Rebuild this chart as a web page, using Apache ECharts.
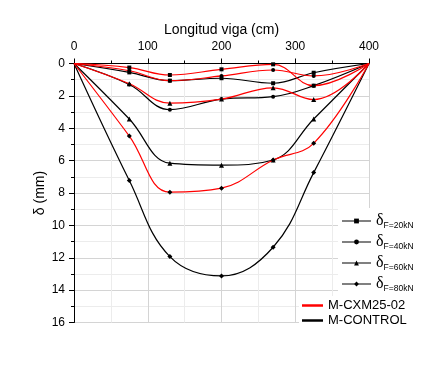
<!DOCTYPE html>
<html><head><meta charset="utf-8">
<script src="https://cdn.jsdelivr.net/npm/echarts@6/dist/echarts.min.js"></script>
<style>html,body{margin:0;padding:0;background:#fff}#c{width:438px;height:365px}</style>
</head><body><div id="c"></div>
<script>
// positions along beam (cm)
const positions = [0, 75, 130, 200, 270, 325, 400];
// deflections (mm) - M-CXM25-02 (red)
const cxm20 = [0, 0.25, 0.71, 0.36, 0.05, 1.37, 0];
const cxm40 = [0, 0.45, 1.06, 0.77, 0.40, 0.77, 0];
const cxm60 = [0, 1.25, 2.45, 2.20, 1.50, 2.23, 0];
const cxm80 = [0, 4.48, 7.95, 7.70, 5.96, 4.93, 0];
// deflections (mm) - M-CONTROL (black)
const ctl20 = [0, 0.55, 1.06, 0.91, 1.22, 0.57, 0];
const ctl40 = [0, 1.30, 2.85, 2.20, 2.05, 1.37, 0];
const ctl60 = [0, 3.43, 6.16, 6.28, 5.96, 3.43, 0];
const ctl80 = [0, 7.23, 11.93, 13.12, 11.35, 6.74, 0];
const loadNames = ['F=20kN', 'F=40kN', 'F=60kN', 'F=80kN'];
const beamNames = ['M-CXM25-02', 'M-CONTROL'];
const xTicks = [0, 100, 200, 300, 400];
const yTicks = [0, 2, 4, 6, 8, 10, 12, 14, 16];

const symbols = ['rect', 'circle', 'triangle', 'diamond'];
const symSizes = [4, 4, 5, 5];
function mk(arr, li, color) {
  return {
    type: 'line', smooth: 0.4, symbol: symbols[li], symbolSize: symSizes[li],
    lineStyle: { color: color, width: 1.2 }, itemStyle: { color: '#000' },
    silent: true, z: color === '#ff0000' ? 3 : 2,
    data: arr.map((v, i) => (i === 0 || i === arr.length - 1) ? { value: [positions[i], v], symbolSize: 0 } : [positions[i], v])
  };
}
const series = [];
[ctl20, ctl40, ctl60, ctl80].forEach((a, i) => series.push(mk(a, i, '#000000')));
[cxm20, cxm40, cxm60, cxm80].forEach((a, i) => series.push(mk(a, i, '#ff0000')));
loadNames.forEach((n, i) => series.push({ type: 'line', name: n, data: [], symbol: symbols[i], symbolSize: symSizes[i],
  lineStyle: { color: '#808080', width: 2.5 }, itemStyle: { color: '#000' } }));
series.push({ type: 'line', name: beamNames[0], data: [], symbol: 'none', lineStyle: { color: '#ff0000', width: 2 }, itemStyle: { color: '#ff0000' } });
series.push({ type: 'line', name: beamNames[1], data: [], symbol: 'none', lineStyle: { color: '#000', width: 2 }, itemStyle: { color: '#000' } });

const font = 'Liberation Sans, Arial, sans-serif';
const chart = echarts.init(document.getElementById('c'), null, { renderer: 'canvas' });
chart.setOption({
  animation: false,
  backgroundColor: '#fff',
  textStyle: { fontFamily: font },
  grid: { left: 74, top: 63.5, width: 295, height: 259, containLabel: false },
  xAxis: {
    type: 'value', position: 'top', min: xTicks[0], max: xTicks[xTicks.length - 1], interval: 100,
    name: 'Longitud viga (cm)', nameLocation: 'middle', nameGap: 26, nameMoveOverlap: false,
    nameTextStyle: { fontSize: 14, color: '#000', fontFamily: font },
    axisLine: { show: true, lineStyle: { color: '#000', width: 1 } },
    axisTick: { show: true, inside: false, length: 5, lineStyle: { color: '#000' } },
    minorTick: { show: true, splitNumber: 2, length: 3, lineStyle: { color: '#000' } },
    splitLine: { show: true, lineStyle: { color: '#d4d4d4', width: 1 } },
    minorSplitLine: { show: true, lineStyle: { color: '#ececec', width: 1 } },
    axisLabel: { fontSize: 12, color: '#000', margin: 11, fontFamily: font }
  },
  yAxis: {
    type: 'value', inverse: true, min: yTicks[0], max: yTicks[yTicks.length - 1], interval: 2,
    name: 'δ (mm)', nameLocation: 'middle', nameGap: 27, nameRotate: 90, nameMoveOverlap: false,
    nameTextStyle: { fontSize: 14, color: '#000', fontFamily: font },
    axisLine: { show: true, lineStyle: { color: '#000', width: 1 } },
    axisTick: { show: true, inside: false, length: 5, lineStyle: { color: '#000' } },
    minorTick: { show: true, splitNumber: 2, length: 3, lineStyle: { color: '#000' } },
    splitLine: { show: true, lineStyle: { color: '#d4d4d4', width: 1 } },
    minorSplitLine: { show: true, lineStyle: { color: '#ececec', width: 1 } },
    axisLabel: { fontSize: 12, color: '#000', margin: 9, fontFamily: font }
  },
  legend: [{
    data: loadNames, orient: 'vertical', left: 338, top: 208, itemWidth: 29, itemHeight: 6, itemGap: 3,
    backgroundColor: '#fff', padding: [4, 3, 4, 3], selectedMode: false,
    formatter: n => '{d|δ}{s|' + n + '}',
    textStyle: { rich: {
      d: { fontSize: 16, fontFamily: 'Liberation Serif, serif', color: '#000', lineHeight: 16, verticalAlign: 'top' },
      s: { fontSize: 8.5, fontFamily: font, color: '#000', padding: [9, 0, 0, 0], lineHeight: 16 }
    } }
  }, {
    data: beamNames, orient: 'vertical', left: 299, top: 296, icon: 'rect', itemWidth: 21, itemHeight: 2.5, itemGap: 2,
    backgroundColor: '#fff', padding: [3, 3, 3, 3], selectedMode: false,
    textStyle: { fontSize: 13, color: '#000', fontFamily: font }
  }],
  series: series
});
</script></body></html>
